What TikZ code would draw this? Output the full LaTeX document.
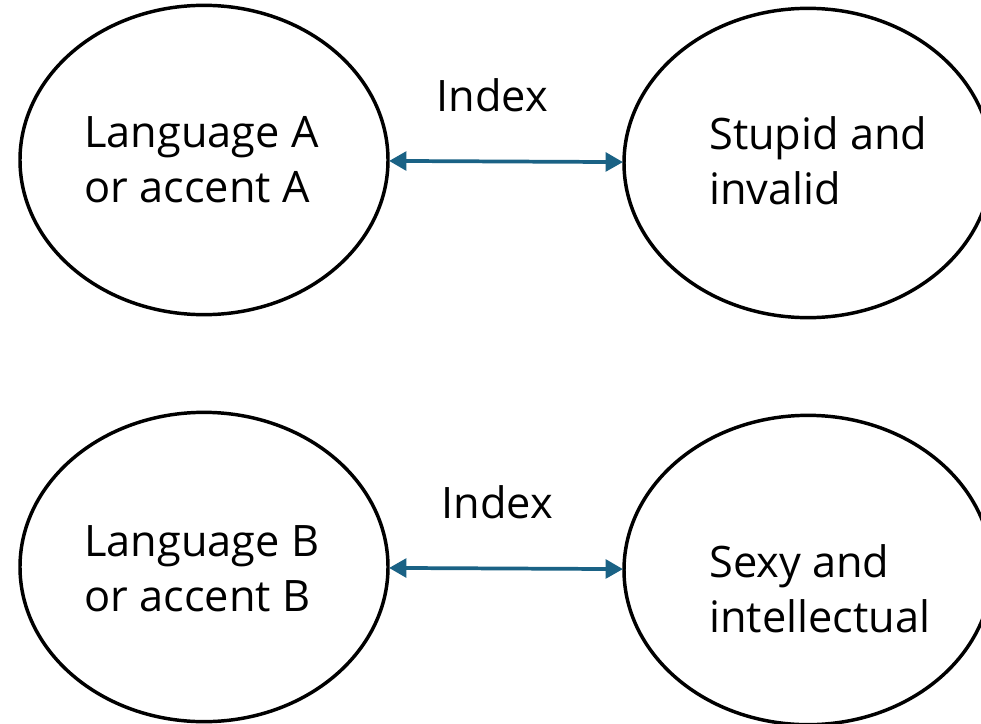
\documentclass[tikz,border=0pt]{standalone}
\usepackage{fontspec}
\setmainfont{Open Sans}
\usetikzlibrary{shapes.geometric,arrows.meta}

\definecolor{linkblue}{HTML}{1A6285}

\tikzset{
    blob/.style={ellipse, draw=black, line width=2.6pt, minimum width=276pt, minimum height=232pt, inner sep=0pt},
    words/.style={align=left, inner sep=0pt, font=\fontsize{32.5}{41}\selectfont},
    index/.style={inner sep=0pt, font=\fontsize{32.5}{41}\selectfont},
    link/.style={linkblue, line width=2.8pt, {Triangle[length=13pt,width=14pt]}-{Triangle[length=13pt,width=14pt]}, shorten <=-0.5pt, shorten >=-0.5pt}
}

\begin{document}
\begin{tikzpicture}[x=0.75pt, y=-0.75pt]
    \clip (0,0) rectangle (981,724);
    \fill[white] (0,0) rectangle (981,724);

    % the four ovals
    \node[blob] (langA) at (204,160) {};
    \node[blob] (stupid) at (808,163) {};
    \node[blob] (langB) at (204,567) {};
    \node[blob] (sexy) at (808,570) {};

    % what is written in them
    \node[words, anchor=west] (langAtext) at (84,160) {Language A\\or accent A};
    \node[words, anchor=west] (stupidtext) at (709,161) {Stupid and\\invalid};
    \node[words, anchor=west] (langBtext) at (84,569) {Language B\\or accent B};
    \node[words, anchor=west] (sexytext) at (709,589) {Sexy and\\intellectual};

    % the links
    \draw[link] (langA) -- (stupid);
    \draw[link] (langB) -- (sexy);

    \node[index] (indexA) at (492,95) {Index};
    \node[index] (indexB) at (497,502) {Index};

    % \draw[help lines, step=50] (0,0) grid (981,724);
\end{tikzpicture}
\end{document}
